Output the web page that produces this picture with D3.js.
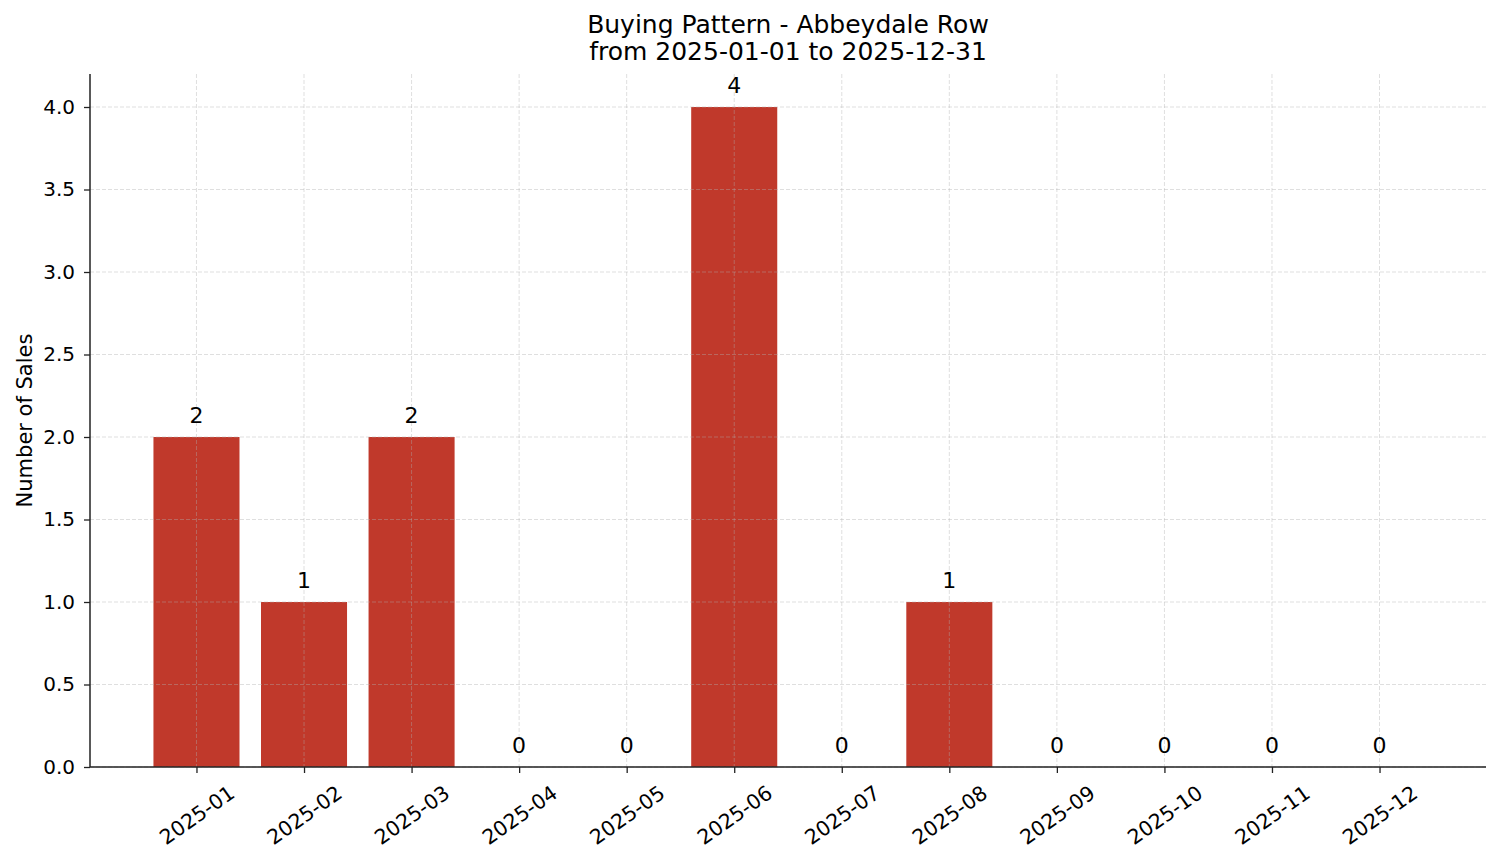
<!DOCTYPE html>
<html>
<head>
<meta charset="utf-8">
<script src="https://cdn.jsdelivr.net/npm/d3@7"></script>
<style>
  body { margin: 0; background: #fff; }
  text { font-family: "DejaVu Sans", sans-serif; fill: #000; }
</style>
</head>
<body>
<div id="chart"></div>
<script>
const months = ["2025-01", "2025-02", "2025-03", "2025-04", "2025-05", "2025-06",
                "2025-07", "2025-08", "2025-09", "2025-10", "2025-11", "2025-12"];
const sales = [2, 1, 2, 0, 0, 4, 0, 1, 0, 0, 0, 0];
const yTicks = [0, 0.5, 1, 1.5, 2, 2.5, 3, 3.5, 4];
const titleLines = ["Buying Pattern - Abbeydale Row", "from 2025-01-01 to 2025-12-31"];

const width = 1501;
const height = 863;
const margin = { top: 74, left: 90, bottom: 96, right: 15 };
const iwidth = width - margin.left - margin.right;
const iheight = height - margin.top - margin.bottom;

const svg = d3.select("#chart")
    .append("svg")
    .attr("width", width)
    .attr("height", height);

const g = svg.append("g").attr("transform", `translate(${margin.left},${margin.top})`);

// index scale, like matplotlib's default bar positions with 5% margins
const x = d3.scaleLinear()
    .domain([-0.99, months.length - 1 + 0.99])
    .range([0, iwidth]);

const y = d3.scaleLinear()
    .domain([0, 4.2])
    .range([iheight, 0]);

const barWidth = x(0.8) - x(0);

g.selectAll("rect.bar").data(sales).enter().append("rect")
    .attr("class", "bar")
    .attr("fill", "#c0392b")
    .attr("x", (d, i) => x(i) - barWidth / 2)
    .attr("y", d => y(d))
    .attr("width", barWidth)
    .attr("height", d => iheight - y(d));

// grid on top of bars
g.append("g")
    .selectAll("line").data(yTicks).enter().append("line")
    .attr("x1", 0).attr("x2", iwidth)
    .attr("y1", d => y(d)).attr("y2", d => y(d))
    .attr("stroke", "#b0b0b0").attr("stroke-opacity", 0.5)
    .attr("stroke-width", 0.8).attr("stroke-dasharray", "4,2");

g.append("g")
    .selectAll("line").data(months).enter().append("line")
    .attr("x1", (d, i) => x(i)).attr("x2", (d, i) => x(i))
    .attr("y1", 0).attr("y2", iheight)
    .attr("stroke", "#b0b0b0").attr("stroke-opacity", 0.5)
    .attr("stroke-width", 0.8).attr("stroke-dasharray", "4,2");

// value labels
g.selectAll("text.val").data(sales).enter().append("text")
    .attr("class", "val")
    .attr("x", (d, i) => x(i))
    .attr("y", d => y(d) - 14)
    .attr("text-anchor", "middle")
    .style("font-size", "22px")
    .text(d => d);

const xAxis = g.append("g")
    .attr("transform", `translate(0,${iheight})`)
    .call(d3.axisBottom(x)
        .tickValues(d3.range(months.length))
        .tickFormat(i => months[i])
        .tickSize(6)
        .tickPadding(4));

xAxis.selectAll("text")
    .style("font-size", "20.5px")
    .attr("text-anchor", "middle")
    .attr("dy", "0.35em")
    .attr("y", 0)
    .attr("transform", "translate(0,48) rotate(-35)");

const yAxis = g.append("g")
    .call(d3.axisLeft(y)
        .tickValues(yTicks)
        .tickFormat(d3.format(".1f"))
        .tickSize(6)
        .tickPadding(9));

yAxis.selectAll("text").style("font-size", "20px");

[xAxis, yAxis].forEach(ax => {
    ax.select(".domain").attr("stroke", "#222").attr("stroke-width", 1.5)
        .attr("d", ax === xAxis ? `M0,0H${iwidth}` : `M0,0V${iheight}`);
    ax.selectAll(".tick line").attr("stroke", "#222").attr("stroke-width", 1.3);
});

svg.append("text")
    .attr("transform", `translate(32,${margin.top + iheight / 2}) rotate(-90)`)
    .attr("text-anchor", "middle")
    .style("font-size", "21px")
    .text("Number of Sales");

svg.append("g").selectAll("text").data(titleLines).enter().append("text")
    .attr("x", margin.left + iwidth / 2)
    .attr("y", (d, i) => 33 + i * 27)
    .attr("text-anchor", "middle")
    .style("font-size", "25px")
    .text(d => d);
</script>
</body>
</html>
